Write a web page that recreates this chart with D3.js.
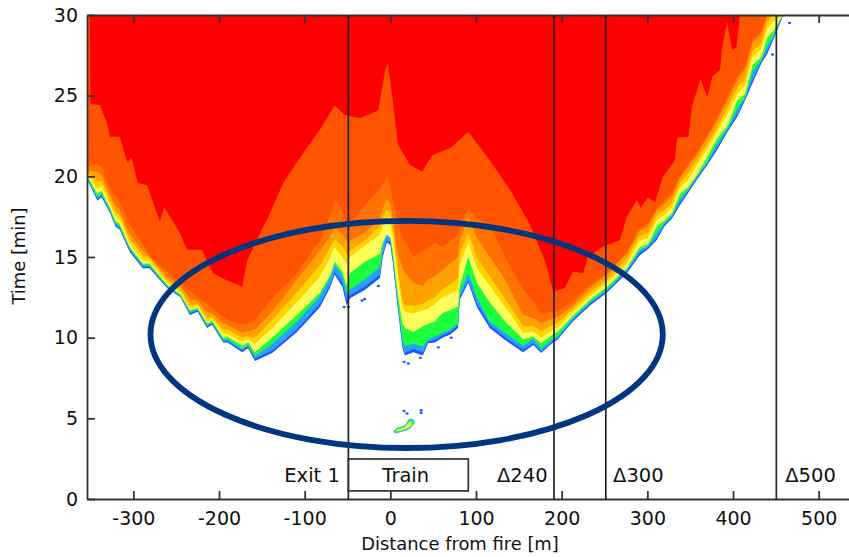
<!DOCTYPE html>
<html><head><meta charset="utf-8"><title>Fire front contour</title>
<style>
  html, body { margin: 0; padding: 0; background: #fff; overflow: hidden; }
  svg { display: block; }
  text { font-family: "DejaVu Sans", sans-serif; fill: #111; }
  .tick line, .domain { stroke: #333; stroke-width: 1.8; }
</style>
</head>
<body>
<svg id="chart" width="849" height="557"></svg>
<script src="https://d3js.org/d3.v7.min.js"></script>
<script>
// stations along the tunnel [m]
const distance = [
  -354,-342,-337,-327,-321,-316,-304,-289,-281,-261,-245,-234,-225,-214,-208,-195,-190,-173,-166,-158,
  -138,-109,-82,-70,-65,-56,-51,
  -47,-30,-12,-9,-4,0,3,8,14,17,27,38,44,52,61,70,79,81,91,101,116,134,155,167,176,190,195,
  213,233,253,276,291,301,311,320,329,338,348,358,370,381,394,405,414,423,433,440,447,458];

// time [min] at which each contour level is first reached, per station
const blueLevel = [
  19.8,18.5,18.7,17.7,16.9,16.7,15.3,14.3,14.3,13.1,12.5,11.4,11.6,10.6,10.8,9.7,9.7,9.1,9.35,8.55,
  9.05,10.35,11.9,13.15,13.9,13.15,12.0,
  12.45,12.95,13.7,15.0,15.9,15.75,14.6,12.15,9.4,8.9,9.1,8.9,9.65,9.7,10.0,10.2,10.6,12.35,13.4,11.9,10.6,9.85,9.1,9.55,9.05,9.7,9.85,
  11.0,12.0,12.8,14.0,15.1,15.5,16.05,16.9,17.4,18.2,19.0,19.8,20.7,21.6,22.8,23.7,24.7,25.8,27.0,27.6,28.45,29.9];
const skyLevel = [
  19.9,18.6,18.8,17.8,17.0,16.8,15.4,14.4,14.4,13.15,12.55,11.5,11.7,10.7,10.9,9.8,9.8,9.2,9.45,8.7,
  9.2,10.5,12.1,13.3,14.05,13.4,12.3,
  12.65,13.15,13.9,15.15,16.05,15.9,14.75,12.3,9.55,9.05,9.3,9.1,9.75,9.85,10.15,10.35,10.75,12.5,13.55,12.1,10.8,10.0,9.25,9.65,9.12,9.78,9.92,
  11.1,12.1,12.9,14.1,15.25,15.6,16.2,17.0,17.5,18.35,19.1,19.9,20.8,21.75,22.9,23.85,24.8,26.0,27.1,27.8,28.55,30];
const greenLevel = [
  19.95,18.7,18.9,17.85,17.1,16.9,15.5,14.5,14.45,13.2,12.6,11.6,11.75,10.75,10.95,9.85,9.9,9.3,9.55,8.85,
  9.6,11.0,12.6,13.75,14.5,13.9,12.8,
  13.0,13.6,14.4,15.6,16.5,16.3,15.0,12.6,9.9,9.5,9.6,9.45,9.9,10.05,10.3,10.5,10.9,12.75,14.0,12.5,11.0,10.3,9.5,9.95,9.3,9.95,10.05,
  11.2,12.2,13.0,14.2,15.4,15.7,16.5,17.1,17.6,18.6,19.2,20.0,20.9,22.0,23.0,24.2,24.9,26.5,27.2,28.1,28.7,30];
const yellowLevel = [
  20.05,18.9,19.1,18.0,17.25,17.05,15.6,14.6,14.6,13.3,12.7,11.7,11.85,10.9,11.05,10.0,10.05,9.5,9.7,9.1,
  10.0,11.4,12.8,13.9,14.7,14.1,13.2,
  14.0,14.7,15.2,15.9,16.4,16.2,15.3,13.0,10.9,10.6,10.35,10.7,10.85,11.0,11.55,11.7,11.95,13.2,15.0,13.4,12.2,11.0,9.9,10.05,9.65,10.2,10.35,
  11.35,12.35,13.15,14.3,15.6,15.8,16.9,17.25,17.75,18.9,19.35,20.1,21.2,22.3,23.2,24.7,25.1,26.9,27.4,28.6,29.0,30];
const goldLevel = [
  20.15,19.2,19.4,18.2,17.5,17.3,15.8,14.8,14.7,13.4,12.8,11.8,11.95,11.0,11.15,10.25,10.2,9.8,9.9,9.6,
  10.6,12.2,13.8,15.0,15.6,15.0,14.6,
  15.0,15.7,16.4,16.9,17.2,17.0,16.2,14.0,11.9,11.6,11.5,11.7,11.8,12.1,12.5,12.7,13.0,14.5,15.9,14.3,13.2,11.9,10.3,10.35,10.0,10.5,10.6,
  11.6,12.55,13.4,14.6,16.0,16.2,17.3,17.6,18.1,19.3,19.8,20.7,21.7,22.7,23.9,25.1,25.6,27.4,27.9,29.2,29.6,30];
const amberLevel = [
  20.25,19.7,19.7,18.5,17.8,17.6,16.1,15.1,14.9,13.6,13.0,12.0,12.1,11.2,11.3,10.5,10.5,10.0,10.1,10.0,
  11.1,12.8,14.5,15.6,16.1,15.7,15.2,
  15.4,16.0,16.9,17.4,17.9,17.7,16.8,14.6,12.3,12.0,12.0,12.1,12.3,12.5,13.0,13.3,13.7,15.2,16.5,15.0,13.8,12.4,10.7,10.7,10.4,10.8,10.9,
  11.8,12.8,13.6,14.9,16.3,16.5,17.6,17.9,18.4,19.6,20.2,21.0,22.0,23.0,24.3,25.5,26.0,27.8,28.2,29.6,30,30];
const orangeLevel = [
  20.35,20.3,20.1,18.8,18.2,17.9,16.4,15.4,15.0,13.8,13.2,12.4,12.3,11.6,11.5,10.9,10.8,10.3,10.4,10.5,
  11.6,13.6,15.4,16.3,16.8,16.4,16.0,
  16.0,16.5,17.4,18.0,18.6,18.3,17.4,15.5,14.3,14.0,13.4,13.2,13.6,13.8,14.2,14.6,15.0,16.0,17.5,16.2,15.0,13.6,11.4,11.2,10.9,11.2,11.3,
  12.0,13.1,13.9,15.2,16.6,16.9,17.9,18.3,18.8,19.9,20.6,21.3,22.4,23.4,24.7,26.0,26.6,28.3,28.8,30,30,30];
const darkLevel = [
  20.6,20.8,20.6,19.2,18.8,18.4,17.0,15.8,15.1,14.1,13.4,12.9,12.5,12.1,11.8,11.3,11.1,10.8,10.9,11.1,
  12.45,14.0,16.05,17.6,18.6,17.9,17.0,
  17.0,18.2,19.2,19.5,20.0,19.5,18.5,17.4,16.2,16.0,15.0,15.4,15.6,15.9,15.6,16.0,16.4,16.9,18.0,17.4,17.0,15.0,13.0,12.2,11.5,11.6,11.6,
  12.3,13.3,14.0,15.3,16.8,17.1,18.0,18.5,19.0,20.0,20.8,21.5,22.6,23.6,25.0,26.2,26.8,28.5,29.0,30,30,30];

// the hottest level has its own finer outline
const redDistance = [
  -354,-351,-350,-339,-331,-327,-316,-307,-302,-295,-284,-269,-264,-246,-237,-220,-207,-193,-173,-167,
  -150,-144,-125,-105,-82,-65,-53,-35,-14,-6,-3,2,9,23,37,49,70,91,116,140,163,181,190,204,213,225,230,
  247,268,276,288,292,301,309,318,332,335,348,352,362,370,376,385,387,393,399,404,408,409];
const redLevel = [
  30,30,24.5,24.4,23.3,22.45,22.45,20.85,21.15,19.6,19.45,17.2,18.1,16.5,15.45,15.45,14.0,13.6,13.15,14.8,
  16.7,17.3,19.6,21.2,22.9,24.4,23.8,23.6,24.1,26.6,27.0,25.05,21.95,20.7,20.3,21.3,21.75,22.75,21.0,19.15,17.0,14.7,12.85,13.1,14.1,14.0,14.95,
  15.6,16.05,17.5,18.55,18.05,18.7,18.4,19.95,21.0,22.4,22.45,24.3,26.05,24.9,26.2,26.6,27.85,29.6,27.85,28.0,29.9,30];

const levelColors = ["#1a55ff", "#2aa0ff", "#1cff3c", "#ffff5c", "#ffd400", "#ffa200", "#ff7200", "#ff5400", "#ff0000"];

// early patch near the fire
const patchDistance = [4, 8, 13, 18, 22, 26, 28];
const patchLow = [4.15, 4.1, 4.2, 4.25, 4.35, 4.55, 4.7];
const patchHigh = [4.2, 4.4, 4.45, 4.6, 4.95, 4.95, 4.75];
const patchInnerDistance = [7, 12, 17, 22, 25];
const patchInnerLow = [4.2, 4.25, 4.32, 4.45, 4.6];
const patchInnerHigh = [4.3, 4.35, 4.45, 4.75, 4.75];

// isolated specks ahead of the front
const speckDistance = [-54, -49, -33, -30, -14, 16, 21, 35, 56, 71, 446, 466, 16, 19.5, 36, 36];
const speckTime = [11.9, 11.9, 12.3, 12.4, 13.2, 8.5, 8.4, 8.75, 9.4, 10, 27.55, 29.5, 5.45, 5.3, 5.5, 5.35];

const xTicks = [-300, -200, -100, 0, 100, 200, 300, 400, 500];
const yTicks = [0, 5, 10, 15, 20, 25, 30];
const lineDistance = [-49, 191, 251.5, 450.6];
const trainStart = -49, trainEnd = 91;
const notes = [
  { text: "Exit 1", d: -59, anchor: "end" },
  { text: "Train", d: 18, anchor: "middle" },
  { text: "Δ240", d: 124.5, anchor: "start" },
  { text: "Δ300", d: 260, anchor: "start" },
  { text: "Δ500", d: 461, anchor: "start" }
];
const ringDistance = 19, ringTime = 10.2, ringRadiusD = 299, ringRadiusT = 7.04;

const plotLeft = 87, plotRight = 849, plotTop = 15, plotBottom = 499;
const x = d3.scaleLinear().domain([-354.1, 535.4]).range([plotLeft, plotRight]);
const y = d3.scaleLinear().domain([0, 30]).range([plotBottom, plotTop]);

const svg = d3.select("#chart");
svg.append("clipPath").attr("id", "plot").append("rect")
  .attr("x", plotLeft).attr("y", plotTop).attr("width", plotRight - plotLeft).attr("height", plotBottom - plotTop);

const field = svg.append("g").attr("clip-path", "url(#plot)");

// painter's order: each level fills from its boundary up to the top of the plot
const fill = (xs) => d3.area()
  .x((d, i) => x(xs[i]))
  .y0(y(30))
  .y1(d => y(d));

[blueLevel, skyLevel, greenLevel, yellowLevel, goldLevel, amberLevel, orangeLevel, darkLevel].forEach((level, i) => {
  field.append("path").datum(level).attr("fill", levelColors[i]).attr("d", fill(distance));
});
field.append("path").datum(redLevel).attr("fill", levelColors[8]).attr("d", fill(redDistance));

field.selectAll("ellipse.speck").data(speckTime).enter().append("ellipse")
  .attr("class", "speck")
  .attr("cx", (d, i) => x(speckDistance[i]))
  .attr("cy", d => y(d))
  .attr("rx", 1.6).attr("ry", 1.2)
  .attr("fill", levelColors[0]);

const band = (xs, low, high) => d3.area()
  .x((d, i) => x(xs[i]))
  .y0((d, i) => y(low[i]))
  .y1((d, i) => y(high[i]));
field.append("path").datum(patchDistance)
  .attr("fill", levelColors[2]).attr("stroke", levelColors[1]).attr("stroke-width", 0.8)
  .attr("d", band(patchDistance, patchLow, patchHigh));
field.append("path").datum(patchInnerDistance)
  .attr("fill", levelColors[3])
  .attr("d", band(patchInnerDistance, patchInnerLow, patchInnerHigh));

// axes, ticks point inwards
const xAxis = svg.append("g").attr("transform", `translate(0,${plotBottom})`)
  .call(d3.axisBottom(x).tickValues(xTicks).tickSizeInner(-8).tickSizeOuter(0).tickPadding(13).tickFormat(d => String(d)));
svg.append("g").attr("transform", `translate(0,${plotTop})`)
  .call(d3.axisTop(x).tickValues(xTicks).tickSizeInner(-8).tickSizeOuter(0).tickFormat(""));
const yAxis = svg.append("g").attr("transform", `translate(${plotLeft},0)`)
  .call(d3.axisLeft(y).tickValues(yTicks).tickSizeInner(-8).tickSizeOuter(0).tickPadding(9));
xAxis.selectAll("text").style("font-size", "19px");
yAxis.selectAll("text").style("font-size", "19px");

svg.selectAll("line.mark").data(lineDistance).enter().append("line")
  .attr("class", "mark")
  .attr("x1", d => x(d)).attr("x2", d => x(d))
  .attr("y1", plotTop).attr("y2", plotBottom)
  .attr("stroke", "#222").attr("stroke-width", 1.7);

svg.append("rect")
  .attr("x", x(trainStart)).attr("width", x(trainEnd) - x(trainStart))
  .attr("y", y(2.48)).attr("height", y(0.5) - y(2.48))
  .attr("fill", "none").attr("stroke", "#333").attr("stroke-width", 1.7);

svg.selectAll("text.note").data(notes).enter().append("text")
  .attr("class", "note")
  .attr("x", d => x(d.d)).attr("y", y(1.5))
  .attr("dy", "0.36em")
  .attr("text-anchor", d => d.anchor)
  .style("font-size", "19.5px")
  .text(d => d.text);

svg.append("ellipse")
  .attr("cx", x(ringDistance)).attr("cy", y(ringTime))
  .attr("rx", x(ringRadiusD) - x(0)).attr("ry", y(0) - y(ringRadiusT))
  .attr("fill", "none").attr("stroke", "#003580").attr("stroke-width", 5.8);

svg.append("text").attr("x", 460).attr("y", 550).attr("text-anchor", "middle")
  .style("font-size", "17.9px").text("Distance from fire [m]");
svg.append("text").attr("transform", "translate(25,256) rotate(-90)").attr("text-anchor", "middle")
  .style("font-size", "17.9px").text("Time [min]");
</script>
</body></html>
